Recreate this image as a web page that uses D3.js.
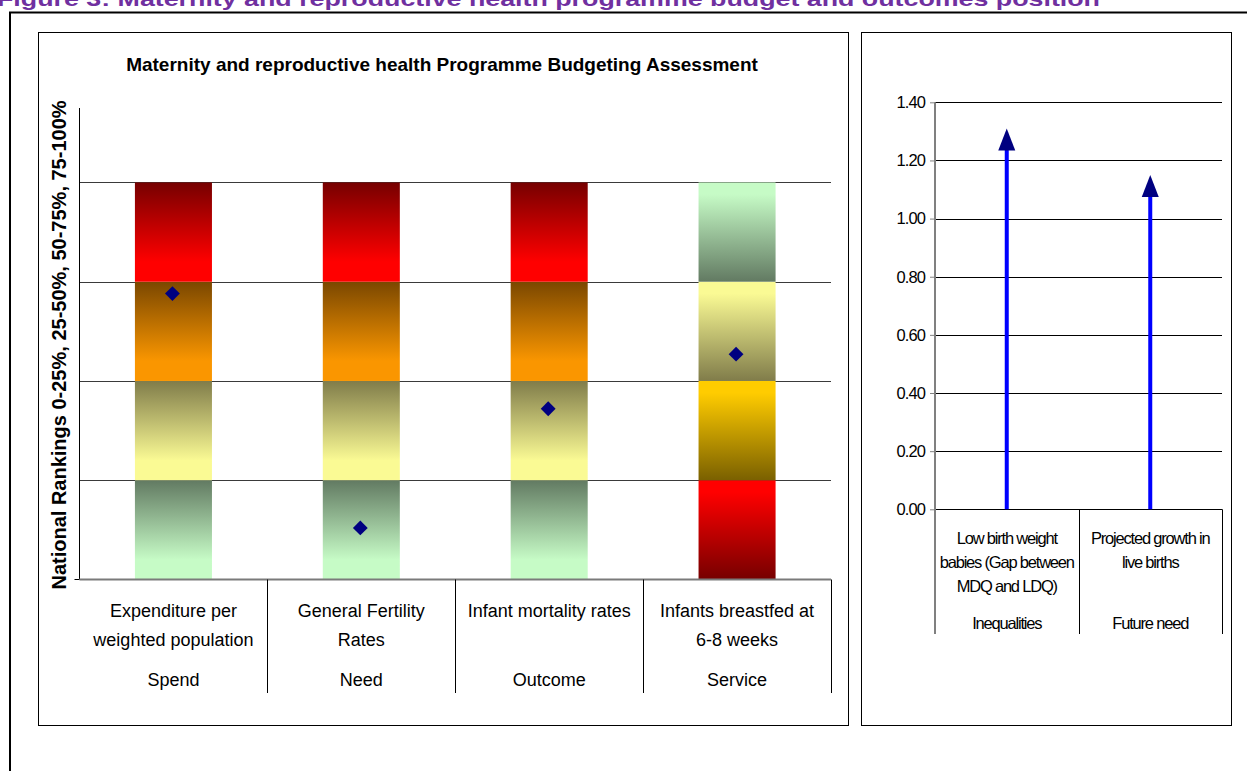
<!DOCTYPE html>
<html>
<head>
<meta charset="utf-8">
<script src="https://cdn.jsdelivr.net/npm/d3@7"></script>
<style>
  html, body { margin: 0; padding: 0; background: #fff; }
  svg { display: block; }
  text { font-family: "Liberation Sans", Arial, sans-serif; }
</style>
</head>
<body>
<svg id="chart" width="1247" height="771"></svg>
<script>
// ---------------- DATA ----------------
const figureTitle = "Figure 3: Maternity and reproductive health programme budget and outcomes position";
const leftTitle = "Maternity and reproductive health Programme Budgeting Assessment";
const leftYTitle = "National Rankings 0-25%, 25-50%, 50-75%, 75-100%";

const indicators = [
  ["Expenditure per", "weighted population"],
  ["General Fertility", "Rates"],
  ["Infant mortality rates"],
  ["Infants breastfed at", "6-8 weeks"]
];
const indicatorGroups = ["Spend", "Need", "Outcome", "Service"];
// quartile bands (stacked, each one unit tall)
const rankBands = [1, 1, 1, 1];
// position of each indicator (diamond marker)
const rankValues = [2.88, 0.52, 1.72, 2.27];
const rankAxisMax = 4.75;

const rightIndicators = [
  ["Low birth weight", "babies (Gap between", "MDQ and LDQ)"],
  ["Projected growth in", "live births"]
];
const rightGroups = ["Inequalities", "Future need"];
const rightValues = [1.31, 1.15];
const rightTicks = [0, 0.2, 0.4, 0.6, 0.8, 1.0, 1.2, 1.4];

// ---------------- STYLE ----------------
// colour ramps for each quartile band: [dark, light]
const ramps = {
  green:  ["#627A62", "#C6FBC6"],
  olive:  ["#807C4A", "#FAFA94"],
  orange: ["#7A4700", "#FA9600"],
  red:    ["#760000", "#FF0000"],
  gold:   ["#7A6000", "#FFCC00"]
};
// per indicator: ramp name of each band bottom->top, and whether dark end is at top
const bandStyle = [
  { ramps: ["green", "olive", "orange", "red"], darkTop: true },
  { ramps: ["green", "olive", "orange", "red"], darkTop: true },
  { ramps: ["green", "olive", "orange", "red"], darkTop: true },
  { ramps: ["red", "gold", "olive", "green"], darkTop: false }
];

const svg = d3.select("#chart");
const defs = svg.append("defs");
svg.append("rect").attr("width", 1247).attr("height", 771).attr("fill", "#fff");

// Figure title (cut at top of page, as in the source document)
svg.append("text")
  .attr("x", -3).attr("y", 6)
  .attr("textLength", 1103).attr("lengthAdjust", "spacingAndGlyphs")
  .attr("font-size", 21).attr("font-weight", "bold").attr("fill", "#7030A0")
  .text(figureTitle);

// outer frame
svg.append("path").attr("d", "M10,771 V12.5 H1247").attr("fill", "none")
  .attr("stroke", "#000").attr("stroke-width", 2);

// panels
svg.append("rect").attr("x", 38.5).attr("y", 32.5).attr("width", 810).attr("height", 693)
  .attr("fill", "#fff").attr("stroke", "#000").attr("stroke-width", 1);
svg.append("rect").attr("x", 861.5).attr("y", 32.5).attr("width", 370).attr("height", 693)
  .attr("fill", "#fff").attr("stroke", "#000").attr("stroke-width", 1);

// ---------------- LEFT CHART ----------------
const L = { x0: 79.5, x1: 831, yTop: 108, yBot: 579.5 };
const xL = d3.scaleBand().domain(indicatorGroups).range([L.x0, L.x1]).padding(0);
const yL = d3.scaleLinear().domain([0, rankAxisMax]).range([L.yBot, L.yTop]);
const barW = xL.bandwidth() * 0.41;

// stacked bands
const stacks = rankBands.map((v, i) => {
  const y0 = d3.sum(rankBands.slice(0, i));
  return { i, y0, y1: y0 + v };
});

// gridlines
const gl = svg.append("g");
stacks.forEach(s => {
  gl.append("line").attr("x1", L.x0).attr("x2", L.x1)
    .attr("y1", Math.round(yL(s.y1)) + 0.5).attr("y2", Math.round(yL(s.y1)) + 0.5)
    .attr("stroke", "#3a3a3a").attr("stroke-width", 1);
});

// gradients + bars
indicatorGroups.forEach((g, ci) => {
  const st = bandStyle[ci];
  stacks.forEach((s, bi) => {
    const ramp = ramps[st.ramps[bi]];
    const id = `g${ci}_${bi}`;
    const grad = defs.append("linearGradient").attr("id", id)
      .attr("x1", 0).attr("y1", 0).attr("x2", 0).attr("y2", 1);
    const top = st.darkTop ? ramp[0] : ramp[1];
    const bot = st.darkTop ? ramp[1] : ramp[0];
    if (st.darkTop) {
      grad.append("stop").attr("offset", 0).attr("stop-color", top);
      grad.append("stop").attr("offset", 0.8).attr("stop-color", bot);
      grad.append("stop").attr("offset", 1).attr("stop-color", bot);
    } else {
      grad.append("stop").attr("offset", 0).attr("stop-color", top);
      grad.append("stop").attr("offset", 0.12).attr("stop-color", top);
      grad.append("stop").attr("offset", 1).attr("stop-color", bot);
    }
    svg.append("rect")
      .attr("x", xL(g) + xL.bandwidth() / 2 - barW / 2)
      .attr("width", barW)
      .attr("y", yL(s.y1))
      .attr("height", yL(s.y0) - yL(s.y1))
      .attr("fill", `url(#${id})`);
  });
});

// diamonds
svg.append("g").selectAll("path").data(rankValues).join("path")
  .attr("d", d3.symbol().type(d3.symbolSquare).size(110))
  .attr("transform", (d, i) => `translate(${xL(indicatorGroups[i]) + xL.bandwidth() / 2 - 1},${yL(d)}) rotate(45)`)
  .attr("fill", "#000080");

// axes
svg.append("line").attr("x1", L.x0).attr("x2", L.x0).attr("y1", L.yTop).attr("y2", L.yBot)
  .attr("stroke", "#000").attr("stroke-width", 1);
svg.append("line").attr("x1", L.x0 - 5).attr("x2", L.x0).attr("y1", L.yBot).attr("y2", L.yBot)
  .attr("stroke", "#000");
svg.append("line").attr("x1", L.x0).attr("x2", L.x1).attr("y1", L.yBot).attr("y2", L.yBot)
  .attr("stroke", "#7a7a7a").attr("stroke-width", 2);
// category dividers (multi-level axis)
indicatorGroups.forEach(g => {
  const x = Math.round(xL(g) + xL.bandwidth()) + 0.5;
  svg.append("line").attr("x1", x).attr("x2", x).attr("y1", L.yBot).attr("y2", 693)
    .attr("stroke", "#000").attr("stroke-width", 1);
});
// category labels
const catG = svg.append("g").attr("font-size", 18).attr("text-anchor", "middle").attr("fill", "#000");
indicators.forEach((lines, i) => {
  const cx = xL(indicatorGroups[i]) + xL.bandwidth() / 2;
  lines.forEach((t, k) => catG.append("text").attr("x", cx).attr("y", 617 + k * 28.5).text(t));
  catG.append("text").attr("x", cx).attr("y", 686).text(indicatorGroups[i]);
});

// titles
svg.append("text").attr("x", 442).attr("y", 71).attr("text-anchor", "middle")
  .attr("font-size", 19).attr("font-weight", "bold").text(leftTitle);
svg.append("text").attr("transform", "translate(66,345) rotate(-90)").attr("text-anchor", "middle")
  .attr("font-size", 20).attr("font-weight", "bold").text(leftYTitle);

// ---------------- RIGHT CHART ----------------
const R = { x0: 935, x1: 1222, yTop: 102.3, yBot: 509.3 };
const xR = d3.scaleBand().domain(rightGroups).range([R.x0, R.x1]).padding(0);
const yR = d3.scaleLinear().domain([0, 1.4]).range([R.yBot, R.yTop]);

// gridlines
svg.append("g").selectAll("line").data(rightTicks).join("line")
  .attr("x1", R.x0).attr("x2", R.x1)
  .attr("y1", d => Math.round(yR(d)) + 0.5).attr("y2", d => Math.round(yR(d)) + 0.5)
  .attr("stroke", "#000").attr("stroke-width", 1);

// y axis
const yAxisR = svg.append("g").attr("transform", `translate(${R.x0},0)`)
  .call(d3.axisLeft(yR).tickValues(rightTicks).tickFormat(d3.format(".2f")).tickSize(5).tickPadding(5));
yAxisR.select(".domain").remove();
yAxisR.selectAll(".tick line").attr("stroke", "#808080");
yAxisR.selectAll(".tick text").attr("font-size", 16.5).attr("letter-spacing", -0.9)
  .attr("font-family", '"Liberation Sans", Arial, sans-serif').attr("fill", "#000");
svg.append("line").attr("x1", R.x0).attr("x2", R.x0).attr("y1", R.yTop).attr("y2", 634)
  .attr("stroke", "#808080").attr("stroke-width", 2);

// dividers
rightGroups.forEach(g => {
  const x = Math.round(xR(g) + xR.bandwidth()) + 0.5;
  svg.append("line").attr("x1", x).attr("x2", x).attr("y1", R.yBot).attr("y2", 634)
    .attr("stroke", "#000").attr("stroke-width", 1);
});

// arrows
const arrowG = svg.append("g");
rightValues.forEach((v, i) => {
  const cx = xR(rightGroups[i]) + xR.bandwidth() / 2;
  const tip = yR(v);
  arrowG.append("line").attr("x1", cx).attr("x2", cx).attr("y1", yR(0)).attr("y2", tip + 18)
    .attr("stroke", "#0000FF").attr("stroke-width", 4);
  arrowG.append("path")
    .attr("d", `M${cx},${tip} L${cx + 8.5},${tip + 22} L${cx - 8.5},${tip + 22} Z`)
    .attr("fill", "#000080");
});

// category labels
const catR = svg.append("g").attr("font-size", 16.5).attr("letter-spacing", -1.2)
  .attr("text-anchor", "middle").attr("fill", "#000");
rightIndicators.forEach((lines, i) => {
  const cx = xR(rightGroups[i]) + xR.bandwidth() / 2;
  lines.forEach((t, k) => catR.append("text").attr("x", cx).attr("y", 544 + k * 24).text(t));
  catR.append("text").attr("x", cx).attr("y", 629).text(rightGroups[i]);
});
</script>
</body>
</html>
